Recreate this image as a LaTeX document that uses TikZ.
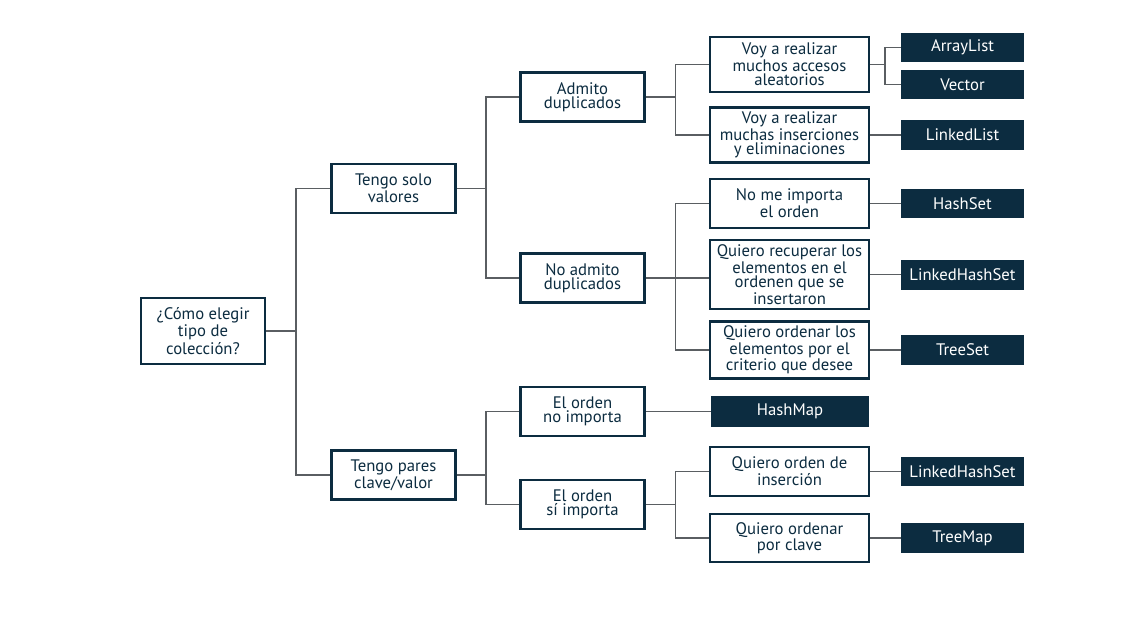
\documentclass[tikz,border=0pt]{standalone}
\usepackage{fontspec}
\setmainfont{PT Sans}
\definecolor{navy}{HTML}{0C2C40}
\definecolor{wire}{HTML}{5A5E62}
\begin{document}
\begin{tikzpicture}[x=0.02cm,y=-0.02cm,
  every node/.style={font=\fontsize{9.5}{8.2}\selectfont, align=center, inner sep=0pt, text=navy},
  qbox/.style={draw=navy, line width=1.2pt, fill=white, minimum width=2.48cm, minimum height=0.98cm},
  cbox/.style={draw=navy, line width=1.2pt, fill=white, minimum width=3.18cm},
  leaf/.style={fill=navy, text=white, minimum width=2.46cm, minimum height=0.59cm},
  wirestyle/.style={draw=wire, line width=1.1pt}]
\useasboundingbox (0,0) rectangle (1133,620);
% level 0
\node[qbox, minimum height=1.32cm] (root) at (203,331) {¿Cómo elegir\\tipo de\\colección?};
% level 1
\node[qbox] (solo) at (393.5,188.5) {Tengo solo\\valores};
\node[qbox] (pares) at (393.5,475) {Tengo pares\\clave/valor};
% level 2
\node[qbox] (dup) at (582.5,97) {Admito\\duplicados};
\node[qbox] (nodup) at (582.5,278) {No admito\\duplicados};
\node[qbox] (noimp) at (582.5,411.5) {El orden\\no importa};
\node[qbox] (siimp) at (582.5,504.5) {El orden\\sí importa};
% level 3
\node[cbox, minimum height=1.1cm] (acc) at (789.5,64.5) {Voy a realizar\\muchos accesos\\aleatorios};
\node[cbox, minimum height=1.1cm] (ins) at (789.5,135) {Voy a realizar\\muchas inserciones\\y eliminaciones};
\node[cbox, minimum height=0.98cm] (noord) at (789.5,203.5) {No me importa\\el orden};
\node[cbox, minimum height=1.38cm] (recup) at (789.5,274.5) {Quiero recuperar los\\elementos en el\\ordenen que se\\insertaron};
\node[cbox, minimum height=1.14cm] (crit) at (789.5,350) {Quiero ordenar los\\elementos por el\\criterio que desee};
\node[cbox, minimum height=0.98cm] (insord) at (789.5,471.5) {Quiero orden de\\inserción};
\node[cbox, minimum height=0.96cm] (clave) at (789.5,538) {Quiero ordenar\\por clave};
% leaves
\node[leaf] (arraylist) at (962.5,47.5) {ArrayList};
\node[leaf] (vector) at (962.5,84.5) {Vector};
\node[leaf] (linkedlist) at (962.5,135) {LinkedList};
\node[leaf] (hashset) at (962.5,203.5) {HashSet};
\node[leaf] (lhs) at (962.5,275) {LinkedHashSet};
\node[leaf] (treeset) at (962.5,350) {TreeSet};
\node[leaf, minimum width=3.16cm, minimum height=0.62cm] (hashmap) at (790,411.5) {HashMap};
\node[leaf] (lhs2) at (962.5,471.5) {LinkedHashSet};
\node[leaf] (treemap) at (962.5,538) {TreeMap};
% bus coordinates
\coordinate (b0) at (296,0);
\coordinate (b1) at (486,0);
\coordinate (b2) at (675.5,0);
\coordinate (b3) at (885,0);
% connectors
\begin{scope}[every path/.style={wirestyle}]
\draw (root.east) -- (root.east -| b0) |- (solo.west);
\draw (root.east -| b0) |- (pares.west);
\draw (solo.east) -- (solo.east -| b1) |- (dup.west);
\draw (solo.east -| b1) |- (nodup.west);
\draw (pares.east) -- (pares.east -| b1) |- (noimp.west);
\draw (pares.east -| b1) |- (siimp.west);
\draw (dup.east) -- (dup.east -| b2) |- (acc.west);
\draw (dup.east -| b2) |- (ins.west);
\draw (nodup.east) -- (nodup.east -| b2) |- (noord.west);
\draw (nodup.east -| b2) |- (crit.west);
\draw (nodup.east) -- (nodup.east -| recup.west);
\draw (siimp.east) -- (siimp.east -| b2) |- (insord.west);
\draw (siimp.east -| b2) |- (clave.west);
\draw (noimp.east) -- (noimp.east -| hashmap.west);
\draw (acc.east) -- (acc.east -| b3) |- (arraylist.west);
\draw (acc.east -| b3) |- (vector.west);
\draw (ins.east) -- (ins.east -| linkedlist.west);
\draw (noord.east) -- (noord.east -| hashset.west);
\draw (recup.east) -- (recup.east -| lhs.west);
\draw (crit.east) -- (crit.east -| treeset.west);
\draw (insord.east) -- (insord.east -| lhs2.west);
\draw (clave.east) -- (clave.east -| treemap.west);
\end{scope}
\end{tikzpicture}
\end{document}
